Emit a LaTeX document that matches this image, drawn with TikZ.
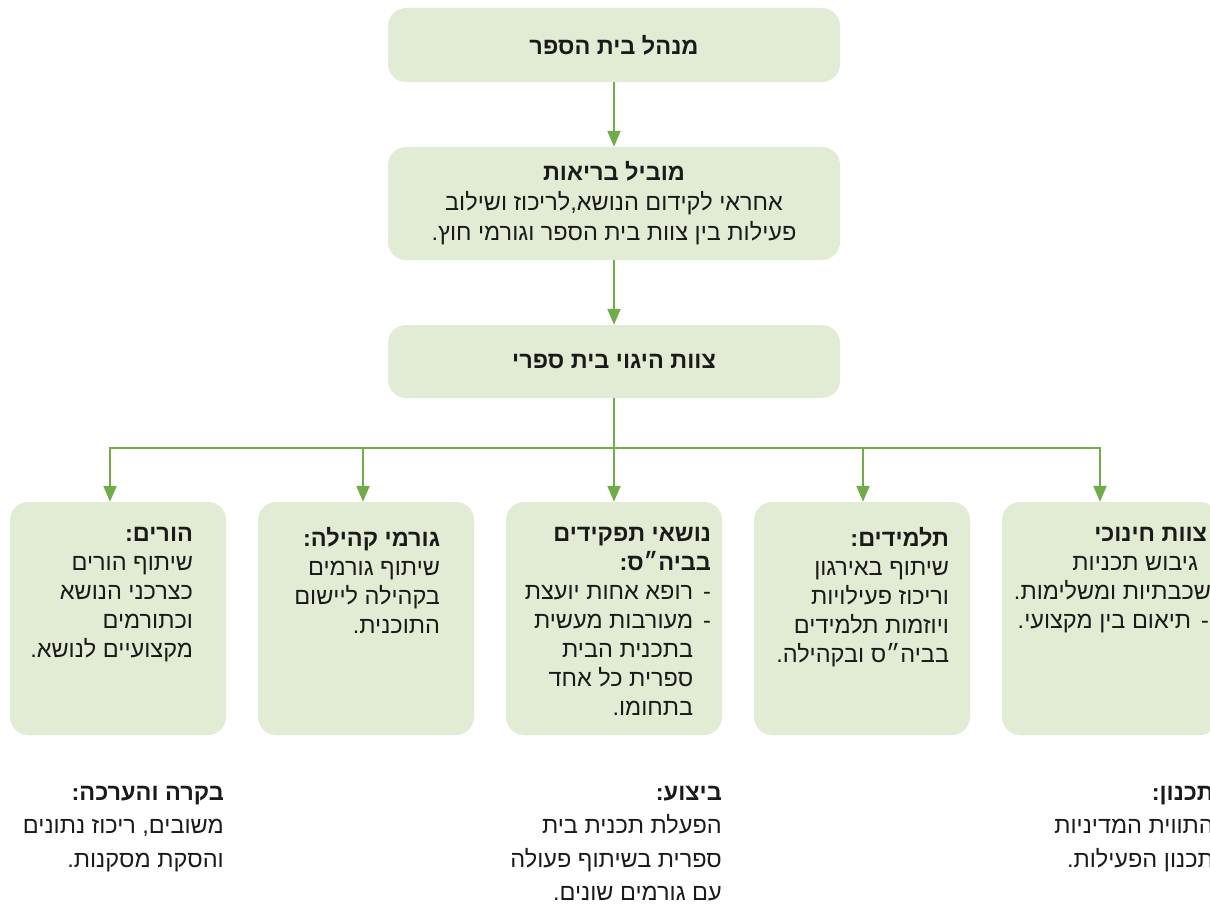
\documentclass[tikz,border=0pt]{standalone}
\usepackage{fontspec}
\TeXXeTstate=1
\newfontfamily\hebfont[Script=Hebrew]{Liberation Sans}
\usepackage{xcolor}
\definecolor{boxgreen}{HTML}{E2EBD4}
\definecolor{arrowgreen}{HTML}{70AD47}
\definecolor{textblack}{HTML}{1A1A1A}
\usetikzlibrary{arrows.meta, positioning}
\newcommand{\heb}[1]{\beginR #1\endR}

\begin{document}
\begin{tikzpicture}[x=1pt, y=-1pt,
            topbox/.style={rectangle, rounded corners=18pt, fill=boxgreen, minimum width=452pt, align=center, text=textblack, font=\hebfont\fontsize{23.5}{30}\selectfont},
            role/.style={rectangle, rounded corners=18pt, fill=boxgreen, minimum width=216pt, minimum height=233pt},
            roletext/.style={anchor=north east, inner sep=0pt, align=right, text=textblack, font=\hebfont\fontsize{23.5}{29}\selectfont},
            phase/.style={anchor=north east, inner sep=0pt, align=right, text=textblack, font=\hebfont\fontsize{23.5}{33.5}\selectfont},
            arrow/.style={line width=2.3pt, draw=arrowgreen, -{Triangle[length=16pt, width=13pt]}}
        ]
            \useasboundingbox (0,0) rectangle (1210,907);

            % Nodes
            \node (director) [topbox, minimum height=74pt] at (614,45) {\textbf{\heb{מנהל בית הספר}}};
            \node (leader) [topbox, minimum height=113pt] at (614,203.5) {\textbf{\heb{מוביל בריאות}}\\\heb{אחראי לקידום הנושא,לריכוז ושילוב}\\\heb{פעילות בין צוות בית הספר וגורמי חוץ.}};
            \node (steering) [topbox, minimum height=73pt] at (614,361.5) {\textbf{\heb{צוות היגוי בית ספרי}}};

            % Partners
            \node (parents) [role] at (118,618.5) {};
            \node (community) [role] at (366,618.5) {};
            \node (staff) [role] at (614,618.5) {};
            \node (students) [role] at (862,618.5) {};
            \node (teachers) [role] at (1110,618.5) {};

            \node [roletext, xshift=-33pt, yshift=-25pt] at (parents.north east) {\textbf{\heb{הורים:}}\\\heb{שיתוף הורים}\\\heb{כצרכני הנושא}\\\heb{וכתורמים}\\\heb{מקצועיים לנושא.}};
            \node [roletext, xshift=-34pt, yshift=-25pt] at (community.north east) {\textbf{\heb{גורמי קהילה:}}\\\heb{שיתוף גורמים}\\\heb{בקהילה ליישום}\\\heb{התוכנית.}};
            \node [roletext, xshift=-11pt, yshift=-25pt] at (staff.north east) {\textbf{\heb{נושאי תפקידים}}\\\textbf{\heb{בביה״ס:}}\\\heb{-\hspace{10pt}רופא אחות יועצת}\\\heb{-\hspace{10pt}מעורבות מעשית}\\\heb{\hphantom{-\hspace{10pt}}בתכנית הבית}\\\heb{\hphantom{-\hspace{10pt}}ספרית כל אחד}\\\heb{\hphantom{-\hspace{10pt}}בתחומו.}};
            \node [roletext, xshift=-21pt, yshift=-25pt] at (students.north east) {\textbf{\heb{תלמידים:}}\\\heb{שיתוף באירגון}\\\heb{וריכוז פעילויות}\\\heb{ויוזמות תלמידים}\\\heb{בביה״ס ובקהילה.}};
            \node [roletext, xshift=-7pt, yshift=-25pt] at (teachers.north east) {\textbf{\heb{\hspace*{4pt}צוות חינוכי}}\\\heb{\hspace*{13pt}גיבוש תכניות}\\\heb{שכבתיות ומשלימות.}\\\heb{\hspace*{2pt}-\hspace{10pt}תיאום בין מקצועי.}};

            % Phases
            \node (review) [phase] at (224,786) {\textbf{\heb{בקרה והערכה:}}\\\heb{משובים, ריכוז נתונים}\\\heb{והסקת מסקנות.}};
            \node (action) [phase] at (722,786) {\textbf{\heb{ביצוע:}}\\\heb{הפעלת תכנית בית}\\\heb{ספרית בשיתוף פעולה}\\\heb{עם גורמים שונים.}};
            \node (planning) [phase] at (1214,786) {\textbf{\heb{תכנון:}}\\\heb{התווית המדיניות}\\\heb{תכנון הפעילות.}};

            % Connectors
            \coordinate (tapParents) at (110,448);
            \coordinate (tapCommunity) at (363,448);
            \coordinate (tapStaff) at (614,448);
            \coordinate (tapStudents) at (863,448);
            \coordinate (tapTeachers) at (1100,448);

            \draw [arrow] (director) -- (leader);
            \draw [arrow] (leader) -- (steering);
            \draw [arrow] (steering) -- (staff);
            \draw [arrow] (tapStaff) -- (tapParents) -- (tapParents |- parents.north);
            \draw [arrow] (tapStaff) -- (tapTeachers) -- (tapTeachers |- teachers.north);
            \draw [arrow] (tapCommunity) -- (tapCommunity |- community.north);
            \draw [arrow] (tapStudents) -- (tapStudents |- students.north);
        \end{tikzpicture}
\end{document}
